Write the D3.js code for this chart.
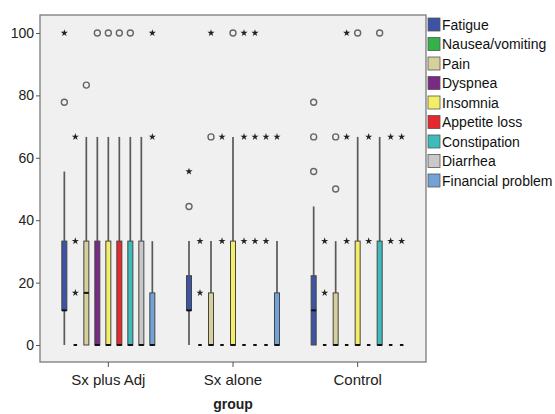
<!DOCTYPE html>
<html><head><meta charset="utf-8">
<script src="https://cdn.jsdelivr.net/npm/d3@7"></script>
<style>body{margin:0;background:#fff}svg{display:block}text{font-family:Arial,"Liberation Sans",sans-serif}</style>
</head><body>
<svg id="chart" width="555" height="414"></svg>
<script>
const groups = ["Sx plus Adj", "Sx alone", "Control"];
const series = ["Fatigue", "Nausea/vomiting", "Pain", "Dyspnea", "Insomnia", "Appetite loss", "Constipation", "Diarrhea", "Financial problem"];
const colors = ["#3d53a6", "#33b24a", "#d6d09c", "#7a2a84", "#f4ee66", "#e8282c", "#3cbcbc", "#c9c9c9", "#72a2d6"];
const yTicks = [0, 20, 40, 60, 80, 100];

// [group][series]
const whiskerLow = [
  [0,0,0,0,0,0,0,0,0],
  [0,0,0,0,0,0,0,0,0],
  [0,0,0,0,0,0,0,0,0]
];
const q1 = [
  [11.1,0,0,0,0,0,0,0,0],
  [11.1,0,0,0,0,0,0,0,0],
  [0,0,0,0,0,0,0,0,0]
];
const median = [
  [11.1,0,16.7,0,0,0,0,0,0],
  [11.1,0,0,0,0,0,0,0,0],
  [11.1,0,0,0,0,0,0,0,0]
];
const q3 = [
  [33.3,0,33.3,33.3,33.3,33.3,33.3,33.3,16.7],
  [22.2,0,16.7,0,33.3,0,0,0,16.7],
  [22.2,0,16.7,0,33.3,0,33.3,0,0]
];
const whiskerHigh = [
  [55.6,0,66.7,66.7,66.7,66.7,66.7,66.7,33.3],
  [33.3,0,33.3,0,66.7,0,0,0,33.3],
  [44.4,0,33.3,0,66.7,0,66.7,0,0]
];
const outliers = [
  [[77.8],[],[83.3],[100],[100],[100],[100],[],[]],
  [[44.4],[],[66.7],[],[100],[],[],[],[]],
  [[77.8,66.7,55.6],[],[66.7,50],[],[100],[],[100],[],[]]
];
const extremes = [
  [[100],[16.7,33.3,66.7],[],[],[],[],[],[],[66.7,100]],
  [[55.6],[16.7,33.3],[100],[33.3,66.7],[],[33.3,66.7,100],[33.3,66.7,100],[33.3,66.7],[66.7]],
  [[],[16.7,33.3],[],[33.3,66.7,100],[],[33.3,66.7],[],[33.3,66.7],[33.3,66.7]]
];

const svg = d3.select("#chart");
const frame = {left: 40, right: 426, top: 15, bottom: 362};
const x = d3.scaleBand().domain(groups).range([46, 420]);
const xs = d3.scaleBand().domain(series).range([-49.5, 49.5]);
const y = d3.scaleLinear().domain([0, 100]).range([345, 33]);

svg.append("rect").attr("x", frame.left).attr("y", frame.top)
  .attr("width", frame.right - frame.left).attr("height", frame.bottom - frame.top)
  .attr("fill", "#f0f0f0").attr("stroke", "#7a7a7a").attr("stroke-width", 1.3);

// y axis
const yAxis = svg.append("g").attr("transform", `translate(${frame.left},0)`)
  .call(d3.axisLeft(y).tickValues(yTicks).tickSize(4).tickPadding(2));
yAxis.select(".domain").remove();
yAxis.selectAll("line").attr("stroke", "#555");
yAxis.selectAll("text").attr("font-size", 14).attr("fill", "#222").attr("font-family", "Arial, 'Liberation Sans', sans-serif");

// x axis
const xAxis = svg.append("g").attr("transform", `translate(0,${frame.bottom})`)
  .call(d3.axisBottom(x).tickSize(5).tickPadding(7));
xAxis.select(".domain").remove();
xAxis.selectAll("line").attr("stroke", "#555");
xAxis.selectAll("text").attr("font-size", 15).attr("fill", "#222").attr("font-family", "Arial, 'Liberation Sans', sans-serif");

svg.append("text").attr("x", x("Sx alone") + x.bandwidth() / 2).attr("y", 409)
  .attr("text-anchor", "middle").attr("font-size", 14).attr("font-weight", "bold").attr("fill", "#222").text("group");

const bw = 5;
const star = d3.symbol().type(d3.symbolStar).size(16);
groups.forEach((g, gi) => {
  const cg = x(g) + x.bandwidth() / 2;
  series.forEach((s, si) => {
    const cx = cg + xs(s) + xs.bandwidth() / 2;
    const G = svg.append("g");
    if (whiskerHigh[gi][si] > q3[gi][si]) {
      G.append("line").attr("x1", cx).attr("x2", cx).attr("y1", y(q3[gi][si])).attr("y2", y(whiskerHigh[gi][si]))
        .attr("stroke", "#595959").attr("stroke-width", 1.7);
    }
    if (whiskerLow[gi][si] < q1[gi][si]) {
      G.append("line").attr("x1", cx).attr("x2", cx).attr("y1", y(q1[gi][si])).attr("y2", y(whiskerLow[gi][si]))
        .attr("stroke", "#595959").attr("stroke-width", 1.7);
    }
    const top = y(q3[gi][si]), bot = y(q1[gi][si]);
    if (bot - top > 0.5) {
      G.append("rect").attr("x", cx - bw / 2).attr("y", top).attr("width", bw).attr("height", bot - top)
        .attr("fill", colors[si]).attr("stroke", "#444").attr("stroke-width", 1);
    }
    const mw = (bot - top > 0.5) ? bw : 3.5;
    G.append("rect").attr("x", cx - mw / 2).attr("y", y(median[gi][si]) - 1).attr("width", mw).attr("height", 2)
      .attr("fill", "#111");
    outliers[gi][si].forEach(v => {
      G.append("circle").attr("cx", cx).attr("cy", y(v)).attr("r", 3)
        .attr("fill", "none").attr("stroke", "#666").attr("stroke-width", 1.4);
    });
    extremes[gi][si].forEach(v => {
      G.append("path").attr("d", star).attr("transform", `translate(${cx},${y(v)})`).attr("fill", "#222");
    });
  });
});

// legend
const lg = svg.append("g").attr("transform", "translate(428,18)");
series.forEach((s, i) => {
  const row = lg.append("g").attr("transform", `translate(0,${i * 19.5})`);
  row.append("rect").attr("width", 12).attr("height", 13).attr("fill", colors[i]).attr("stroke", "#555").attr("stroke-width", 0.8);
  row.append("text").attr("x", 14).attr("y", 11.5).attr("font-size", 14).attr("fill", "#111").text(s);
});
</script>
</body></html>
